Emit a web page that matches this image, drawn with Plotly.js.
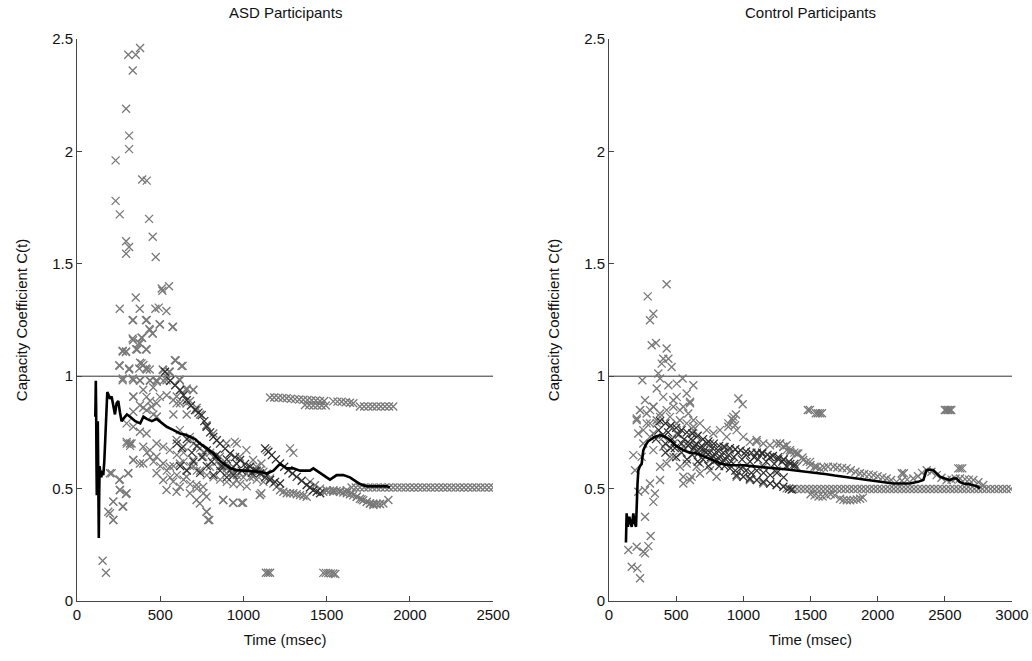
<!DOCTYPE html>
<html>
<head>
<meta charset="utf-8">
<script src="https://cdn.plot.ly/plotly-3.0.1.min.js"></script>
<style>html,body{margin:0;padding:0;background:#fff}#chart{width:1032px;height:661px}</style>
</head>
<body>
<div id="chart"></div>
<script>
// ---------- ASD participants ----------
const asdTopX = [308,353,379,335,295,313,313,232,392,419,232,257,433,455,295,313,295,473,509,553];
const asdTopY = [2.43,2.43,2.46,2.36,2.19,2.07,2.01,1.96,1.875,1.87,1.78,1.72,1.70,1.62,1.60,1.575,1.545,1.53,1.39,1.40];

const asdCloudX = [334,414,498,574,438,454,334,388,374,418,362,274,294,588,628,254,314,388,414,374,518,558,618,274,338,378,438,478,538,338,418,498,618,658,698,378,448,578,598,658,718,338,298,338,418,478,378,418,618,678,778,298,328,398,438,478,518,558,598,638,678,338,398,478,518,558,618,658,698,758,798,478,518,578,618,658,718,758,538,598,678,718,738,778,778,788,198,254,308,258,298,218,278,198,218,898,948,1018,978,1058,1078,1108,1098,1108,878,938,998,858,898,938,978,1018,1058,898,958,
 257,377,471,491,537,353,513,593,635,257,313,419,437,515,553,275,335,379,439,479,519,539,615,659,699,339,398,458,439,479,539,599,619,679,398,579,659,719,739,779,819,960,299,319,459,479,275,295,379,399,379,355,415,337,391,435,455,577,497,419,337,
 208,258,308,258,294,218,274,188,218,338,378,318,879,939,989,779,795,1100,
 700,740,760,800,820,840,860,880,900,920,940,960,1000,1040,1080,1120,700,740,780,820,860,900,940,980,1020,640,680,720,600,640,680,720,760,580,600,640,560,540,500,460,440,420];
const asdCloudY = [1.249,1.249,1.231,1.219,1.205,1.19,1.168,1.172,1.148,1.119,1.119,1.113,1.108,1.071,1.045,1.049,1.034,1.057,1.034,1.034,1.027,1.02,0.982,0.982,0.982,0.982,0.982,0.982,0.982,0.908,0.908,0.908,0.938,0.938,0.938,0.871,0.864,0.894,0.879,0.879,0.849,0.842,0.79,0.775,0.849,0.819,0.753,0.745,0.76,0.73,0.782,0.708,0.701,0.686,0.671,0.701,0.686,0.671,0.716,0.686,0.716,0.627,0.612,0.642,0.612,0.597,0.612,0.582,0.627,0.642,0.597,0.568,0.538,0.531,0.508,0.553,0.516,0.508,0.494,0.486,0.479,0.449,0.434,0.464,0.397,0.36,0.568,0.538,0.568,0.494,0.479,0.442,0.42,0.39,0.36,0.701,0.708,0.671,0.642,0.627,0.597,0.612,0.471,0.479,0.449,0.437,0.437,0.642,0.612,0.597,0.568,0.568,0.553,0.568,0.538,
 1.30,1.30,1.30,1.305,1.29,1.35,1.38,1.07,1.046,1.046,1.03,1.03,1.03,1.03,1.02,0.99,0.99,0.98,0.98,0.975,0.98,0.997,0.985,0.945,0.94,0.91,0.94,0.95,0.89,0.88,0.915,0.91,0.88,0.89,0.86,0.83,0.83,0.86,0.83,0.78,0.745,0.70,0.70,0.69,0.83,0.82,1.11,1.11,1.06,1.05,1.145,1.12,1.12,1.16,1.17,1.21,1.19,1.22,1.23,1.25,1.25,
 0.568,0.541,0.568,0.494,0.476,0.442,0.42,0.397,0.36,0.627,0.612,0.701,0.449,0.437,0.437,0.397,0.36,0.472,
 0.70,0.68,0.66,0.66,0.64,0.62,0.60,0.60,0.59,0.58,0.57,0.56,0.55,0.55,0.54,0.53,0.60,0.58,0.56,0.55,0.54,0.53,0.52,0.52,0.51,0.62,0.60,0.58,0.56,0.54,0.52,0.50,0.48,0.60,0.65,0.66,0.55,0.58,0.60,0.62,0.64,0.66];

const asdChainX = [529,560,590,619,640,659,685,709,730,749,765,779,800,819,840,859,890,920,950,980,1010,1040,1070,1100,1130,1160,1190,1220,1130,1150,1170,1195,1220,1245,1270,1295,1320,1350,1380,1400,1420,1440,1461];
const asdChainY = [1.02,0.98,0.96,0.938,0.915,0.893,0.87,0.849,0.838,0.827,0.80,0.775,0.75,0.73,0.715,0.70,0.678,0.656,0.64,0.627,0.61,0.597,0.58,0.567,0.55,0.538,0.53,0.523,0.679,0.664,0.649,0.63,0.612,0.597,0.582,0.567,0.552,0.535,0.516,0.505,0.493,0.486,0.479];

const asdDenseX = [600,630,660,690,720,750,780,810,840,870,900,930,960,990,1020,1050,1080,620,660,700,740,780,820,860,900,940];
const asdDenseY = [0.70,0.68,0.72,0.66,0.69,0.64,0.67,0.62,0.65,0.60,0.63,0.59,0.61,0.58,0.59,0.57,0.58,0.60,0.58,0.62,0.57,0.60,0.56,0.58,0.55,0.56];

const asdTailX = [1100,1120,1140,1160,1180,1200,1220,1240,1260,1280,1300,1320,1340,1360,1380,1400,1430,1460,1500,1540,1580,1621,1650,1681,1710,1741,1760,1781,1800,1820,1841,1871,1480,1500,1520,1541,1560,1580,1600,1621,1640,1660,1681,1700,1720,1741,1761,1780,1800,1821,1140,1280,1300];
const asdTailY = [0.582,0.575,0.567,0.545,0.523,0.508,0.493,0.486,0.479,0.479,0.479,0.475,0.471,0.468,0.464,0.53,0.515,0.50,0.493,0.486,0.49,0.493,0.48,0.464,0.452,0.441,0.434,0.427,0.43,0.432,0.434,0.449,0.486,0.49,0.49,0.493,0.49,0.486,0.483,0.479,0.475,0.47,0.464,0.455,0.448,0.441,0.434,0.433,0.432,0.431,0.671,0.679,0.659];

const asdBandX = [1160,1185,1210,1235,1260,1285,1310,1335,1360,1385,1410,1435,1460,1485,1370,1395,1420,1445,1470,1495,1540,1565,1590,1615,1640,1660,1700,1725,1750,1775,1800,1825,1850,1875,1900];
const asdBandY = [0.905,0.905,0.904,0.903,0.902,0.90,0.898,0.896,0.895,0.894,0.893,0.892,0.89,0.89,0.872,0.871,0.87,0.87,0.87,0.87,0.888,0.887,0.886,0.884,0.882,0.88,0.865,0.865,0.865,0.865,0.865,0.865,0.865,0.865,0.865];

const asdFlatX = [1650,1675,1700,1725,1750,1775,1800,1825,1850,1875,1900,1925,1950,1975,2000,2025,2050,2075,2100,2125,2150,2175,2200,2225,2250,2275,2300,2325,2350,2375,2400,2425,2450,2475,2500];
const asdFlatY = [0.505,0.505,0.505,0.505,0.505,0.505,0.505,0.505,0.505,0.505,0.505,0.505,0.505,0.505,0.505,0.505,0.505,0.505,0.505,0.505,0.505,0.505,0.505,0.505,0.505,0.505,0.505,0.505,0.505,0.505,0.505,0.505,0.505,0.505,0.505];

const asdLowX = [154,174,1135,1148,1160,1480,1495,1510,1525,1540,1552];
const asdLowY = [0.179,0.126,0.126,0.126,0.126,0.125,0.125,0.124,0.123,0.122,0.12];

const asdMeanX = [110,113,115,117,119,121,123,125,127,129,131,133,136,140,146,152,158,164,170,176,182,188,198,208,218,228,238,248,258,268,278,290,300,319,350,380,399,419,450,479,510,539,580,619,650,679,710,739,780,819,850,879,920,960,1000,1060,1100,1140,1180,1220,1260,1300,1340,1380,1400,1420,1460,1500,1520,1540,1560,1600,1640,1680,1701,1741,1781,1820,1862,1880];
const asdMeanY = [0.82,0.98,0.86,0.62,0.47,0.72,0.52,0.80,0.46,0.55,0.28,0.45,0.60,0.57,0.55,0.58,0.56,0.62,0.72,0.84,0.93,0.92,0.90,0.91,0.86,0.83,0.88,0.89,0.84,0.80,0.81,0.82,0.83,0.82,0.80,0.79,0.82,0.81,0.80,0.81,0.79,0.775,0.76,0.745,0.74,0.73,0.72,0.70,0.68,0.656,0.63,0.612,0.59,0.582,0.58,0.575,0.575,0.567,0.58,0.61,0.59,0.59,0.58,0.58,0.58,0.59,0.57,0.55,0.54,0.55,0.56,0.56,0.55,0.53,0.52,0.51,0.51,0.51,0.51,0.505];

// ---------- Control participants ----------
const ctlTopX = [429,288,330,305,318,350,429,404,442,392,466,367,248,380,504,548,628,355,442,963,995];
const ctlTopY = [1.409,1.355,1.278,1.249,1.138,1.148,1.123,1.078,1.078,1.056,1.041,1.012,0.982,0.99,0.967,0.99,0.96,0.945,0.96,0.901,0.875];

const ctlEarlyX = [268,330,404,479,603,578,231,305,380,454,528,590,206,280,355,504,628,925,888,938,218,305,504,628,181,243,255,1099,1273,1322,194,305,380,218,268,342,330,268,310,144,206,255,293,268,169,211,231,528,553,615];
const ctlEarlyY = [0.893,0.864,0.908,0.893,0.886,0.923,0.849,0.849,0.834,0.819,0.849,0.834,0.812,0.79,0.804,0.79,0.804,0.819,0.79,0.782,0.745,0.73,0.745,0.76,0.649,0.641,0.701,0.708,0.701,0.693,0.582,0.523,0.538,0.486,0.493,0.478,0.441,0.375,0.289,0.227,0.241,0.219,0.244,0.212,0.152,0.145,0.101,0.597,0.523,0.553];

const ctlCloudX = [231,206,280,330,380,429,504,479,553,603,528,578,628,677,727,777,826,876,925,950,1000,1049,1099,1149,1198,1248,1298,1347,1397,1446,1496,1546,255,330,404,479,553,628,702,777,851,925,1000,330,404,479,578,652,752,553,603,677,801,950,1049,1149,1248,1322,305,355,454,504,652,752,851,900,454,380,429,677,752,1099,1198,1298,1397,1149,1248,888,913,945];
const ctlCloudY = [0.849,0.804,0.834,0.864,0.819,0.849,0.908,0.864,0.864,0.879,0.804,0.79,0.775,0.79,0.76,0.745,0.76,0.73,0.804,0.76,0.73,0.708,0.716,0.701,0.693,0.701,0.686,0.671,0.656,0.627,0.619,0.597,0.76,0.745,0.73,0.701,0.686,0.671,0.656,0.641,0.627,0.612,0.597,0.671,0.686,0.641,0.612,0.597,0.582,0.553,0.538,0.567,0.553,0.553,0.538,0.523,0.516,0.501,0.79,0.79,0.775,0.745,0.73,0.701,0.686,0.671,0.641,0.597,0.612,0.612,0.627,0.656,0.641,0.627,0.597,0.597,0.582,0.775,0.81,0.83];

const ctlChainX = [380,420,460,500,540,580,620,660,700,740,780,820,860,900,940,980,1020,1060,1100,1140,1180,1220,1260,1300,1340,1380,950,1000,1049,1100,1149,1200,1248,1298,1340,1360,600,640,680,720,760,800,840];
const ctlChainY = [0.80,0.79,0.78,0.77,0.76,0.75,0.745,0.735,0.72,0.71,0.70,0.69,0.685,0.68,0.675,0.67,0.665,0.66,0.66,0.655,0.65,0.645,0.64,0.63,0.62,0.61,0.56,0.553,0.545,0.538,0.53,0.523,0.516,0.508,0.50,0.496,0.70,0.69,0.68,0.66,0.64,0.63,0.62];

const ctlDenseX = [350,370,400,420,440,470,490,520,540,560,590,610,630,650,670,690,710,730,750,770,790,810,830,850,870,890,910,930,960,990,1020,1050,1080,1110,1140,1170,1200,1230,1260,1290,1320,1350,1380,420,460,500,540,580,620,660,700,740,780,820,860,900,940,980,1020,1060,1100,1150,1200,1250,1300];
const ctlDenseY = [0.72,0.76,0.74,0.70,0.75,0.72,0.68,0.74,0.70,0.72,0.69,0.72,0.68,0.70,0.66,0.69,0.67,0.70,0.66,0.68,0.65,0.67,0.64,0.66,0.63,0.65,0.62,0.64,0.66,0.63,0.65,0.62,0.64,0.63,0.66,0.62,0.64,0.61,0.63,0.62,0.60,0.61,0.60,0.66,0.68,0.64,0.66,0.63,0.65,0.62,0.63,0.60,0.62,0.60,0.60,0.59,0.58,0.59,0.58,0.57,0.58,0.57,0.56,0.57,0.55];

const ctlUpperX = [1273,1298,1323,1350,1380,1409,1440,1471,1500,1530,1571,1600,1630,1670,1700,1735,1769,1800,1835,1868,1900,1935,1968,2000,2035,2067,2100,2141,2180,2220,2265,2300,2330,2365,2400,2439,2475,2514,2550,2580,2613,2650,2680,2712,2750,2786];
const ctlUpperY = [0.701,0.686,0.671,0.664,0.66,0.656,0.638,0.619,0.605,0.597,0.59,0.594,0.597,0.597,0.594,0.592,0.59,0.582,0.575,0.568,0.565,0.562,0.56,0.555,0.55,0.545,0.538,0.53,0.535,0.54,0.545,0.555,0.57,0.582,0.575,0.56,0.548,0.538,0.54,0.545,0.545,0.542,0.54,0.538,0.528,0.516];

const ctlFlatX = [1370,1400,1430,1460,1490,1520,1550,1580,1610,1640,1670,1700,1730,1760,1790,1820,1850,1880,1910,1940,1970,2000,2030,2060,2090,2120,2150,2180,2210,2240,2270,2300,2330,2360,2390,2420,2450,2480,2510,2540,2570,2600,2630,2660,2690,2720,2750,2780,2810,2840,2870,2900,2930,2960,2990];
const ctlFlatY = [0.498,0.498,0.498,0.498,0.498,0.498,0.498,0.498,0.498,0.498,0.498,0.498,0.498,0.498,0.498,0.498,0.498,0.498,0.498,0.498,0.498,0.498,0.498,0.498,0.498,0.498,0.498,0.498,0.498,0.498,0.498,0.498,0.498,0.498,0.498,0.498,0.498,0.498,0.498,0.498,0.498,0.498,0.498,0.498,0.498,0.498,0.498,0.498,0.498,0.498,0.498,0.498,0.498,0.498,0.498];

const ctlLowBandX = [1500,1530,1560,1590,1620,1650,1680,1720,1745,1770,1795,1820,1845,1870,1890];
const ctlLowBandY = [0.475,0.47,0.465,0.465,0.47,0.475,0.47,0.455,0.45,0.448,0.448,0.45,0.452,0.455,0.46];

const ctlClusterX = [1480,1495,1540,1555,1570,1585,2500,2512,2524,2536,2548,2600,2615,2630,2180,2195];
const ctlClusterY = [0.85,0.85,0.835,0.835,0.835,0.835,0.85,0.85,0.85,0.85,0.85,0.59,0.59,0.59,0.568,0.568];

const ctlMeanX = [126,131,140,151,160,169,181,190,201,206,212,218,230,243,255,270,290,305,340,380,420,454,500,553,600,652,700,752,800,826,860,900,950,1000,1060,1124,1190,1248,1310,1372,1430,1496,1560,1620,1680,1744,1800,1868,1930,1992,2050,2116,2180,2240,2300,2340,2364,2390,2414,2440,2464,2500,2538,2560,2588,2610,2637,2680,2712,2740,2761];
const ctlMeanY = [0.26,0.39,0.33,0.375,0.35,0.33,0.39,0.35,0.33,0.46,0.52,0.58,0.60,0.61,0.67,0.69,0.71,0.716,0.73,0.738,0.73,0.716,0.69,0.671,0.66,0.656,0.645,0.634,0.62,0.612,0.607,0.604,0.604,0.604,0.60,0.597,0.594,0.59,0.586,0.582,0.578,0.575,0.57,0.564,0.558,0.553,0.55,0.545,0.54,0.535,0.53,0.523,0.523,0.523,0.53,0.538,0.582,0.585,0.582,0.565,0.553,0.545,0.538,0.545,0.545,0.53,0.523,0.52,0.516,0.51,0.501];

const panelTitles = ["ASD Participants", "Control Participants"];
const xTitle = "Time (msec)";
const yTitle = "Capacity Coefficient C(t)";

const GRAY = '#787878', DARK = '#2e2e2e';
function marks(x, y, color, xa, ya) {
  return {x: x, y: y, xaxis: xa, yaxis: ya, type: 'scatter', mode: 'markers', hoverinfo: 'x+y',
    marker: {symbol: 'x-thin', size: 8, color: color, line: {width: 1.3, color: color}}, showlegend: false};
}
function meanLine(x, y, xa, ya) {
  return {x: x, y: y, xaxis: xa, yaxis: ya, type: 'scatter', mode: 'lines',
    line: {color: '#000', width: 2.6}, showlegend: false};
}

const traces = [
  marks(asdTopX, asdTopY, GRAY, 'x', 'y'),
  marks(asdCloudX, asdCloudY, GRAY, 'x', 'y'),
  marks(asdTailX, asdTailY, GRAY, 'x', 'y'),
  marks(asdBandX, asdBandY, GRAY, 'x', 'y'),
  marks(asdFlatX, asdFlatY, GRAY, 'x', 'y'),
  marks(asdLowX, asdLowY, GRAY, 'x', 'y'),
  marks(asdDenseX, asdDenseY, DARK, 'x', 'y'),
  marks(asdChainX, asdChainY, DARK, 'x', 'y'),
  meanLine(asdMeanX, asdMeanY, 'x', 'y'),
  marks(ctlTopX, ctlTopY, GRAY, 'x2', 'y2'),
  marks(ctlEarlyX, ctlEarlyY, GRAY, 'x2', 'y2'),
  marks(ctlCloudX, ctlCloudY, GRAY, 'x2', 'y2'),
  marks(ctlUpperX, ctlUpperY, GRAY, 'x2', 'y2'),
  marks(ctlFlatX, ctlFlatY, GRAY, 'x2', 'y2'),
  marks(ctlLowBandX, ctlLowBandY, GRAY, 'x2', 'y2'),
  marks(ctlClusterX, ctlClusterY, GRAY, 'x2', 'y2'),
  marks(ctlDenseX, ctlDenseY, DARK, 'x2', 'y2'),
  marks(ctlChainX, ctlChainY, DARK, 'x2', 'y2'),
  meanLine(ctlMeanX, ctlMeanY, 'x2', 'y2')
];

const FONT = 'Liberation Sans, Arial, sans-serif';
function xAxis(domain, range, tickvals, anchor) {
  return {domain: domain, range: range, anchor: anchor, tickvals: tickvals, ticktext: tickvals.map(String),
    showline: true, linecolor: '#444', linewidth: 1, ticks: 'inside', ticklen: 5, tickcolor: '#444',
    showgrid: false, zeroline: false, tickfont: {family: FONT, size: 15, color: '#111'},
    title: {text: xTitle, font: {family: FONT, size: 15, color: '#111'}, standoff: 12}};
}
function yAxis(anchor) {
  return {domain: [0, 1], range: [0, 2.5], anchor: anchor, tickvals: [0, 0.5, 1, 1.5, 2, 2.5],
    ticktext: ['0', '0.5', '1', '1.5', '2', '2.5'],
    showline: true, linecolor: '#444', linewidth: 1, ticks: 'inside', ticklen: 5, tickcolor: '#444',
    showgrid: false, zeroline: false, tickfont: {family: FONT, size: 15, color: '#111'},
    title: {text: yTitle, font: {family: FONT, size: 15, color: '#111'}, standoff: 20}};
}

const layout = {
  width: 1032, height: 661,
  margin: {l: 77, r: 20, t: 39, b: 60},
  paper_bgcolor: '#fff', plot_bgcolor: '#fff',
  font: {family: FONT, size: 15, color: '#111'},
  xaxis: xAxis([0, 0.445], [0, 2500], [0, 500, 1000, 1500, 2000, 2500], 'y'),
  yaxis: yAxis('x'),
  xaxis2: xAxis([0.569, 1], [0, 3000], [0, 500, 1000, 1500, 2000, 2500, 3000], 'y2'),
  yaxis2: yAxis('x2'),
  shapes: [
    {type: 'line', xref: 'x domain', yref: 'y', x0: 0, x1: 1, y0: 1, y1: 1, line: {color: '#333', width: 1}, layer: 'below'},
    {type: 'line', xref: 'x2 domain', yref: 'y2', x0: 0, x1: 1, y0: 1, y1: 1, line: {color: '#333', width: 1}, layer: 'below'}
  ],
  annotations: [
    {text: panelTitles[0], xref: 'x domain', yref: 'paper', x: 0.5, y: 1, yanchor: 'bottom', yshift: 16, showarrow: false, font: {family: FONT, size: 15, color: '#111'}},
    {text: panelTitles[1], xref: 'x2 domain', yref: 'paper', x: 0.5, y: 1, yanchor: 'bottom', yshift: 16, showarrow: false, font: {family: FONT, size: 15, color: '#111'}}
  ]
};

Plotly.newPlot('chart', traces, layout, {displayModeBar: false, staticPlot: true});
</script>
</body>
</html>
